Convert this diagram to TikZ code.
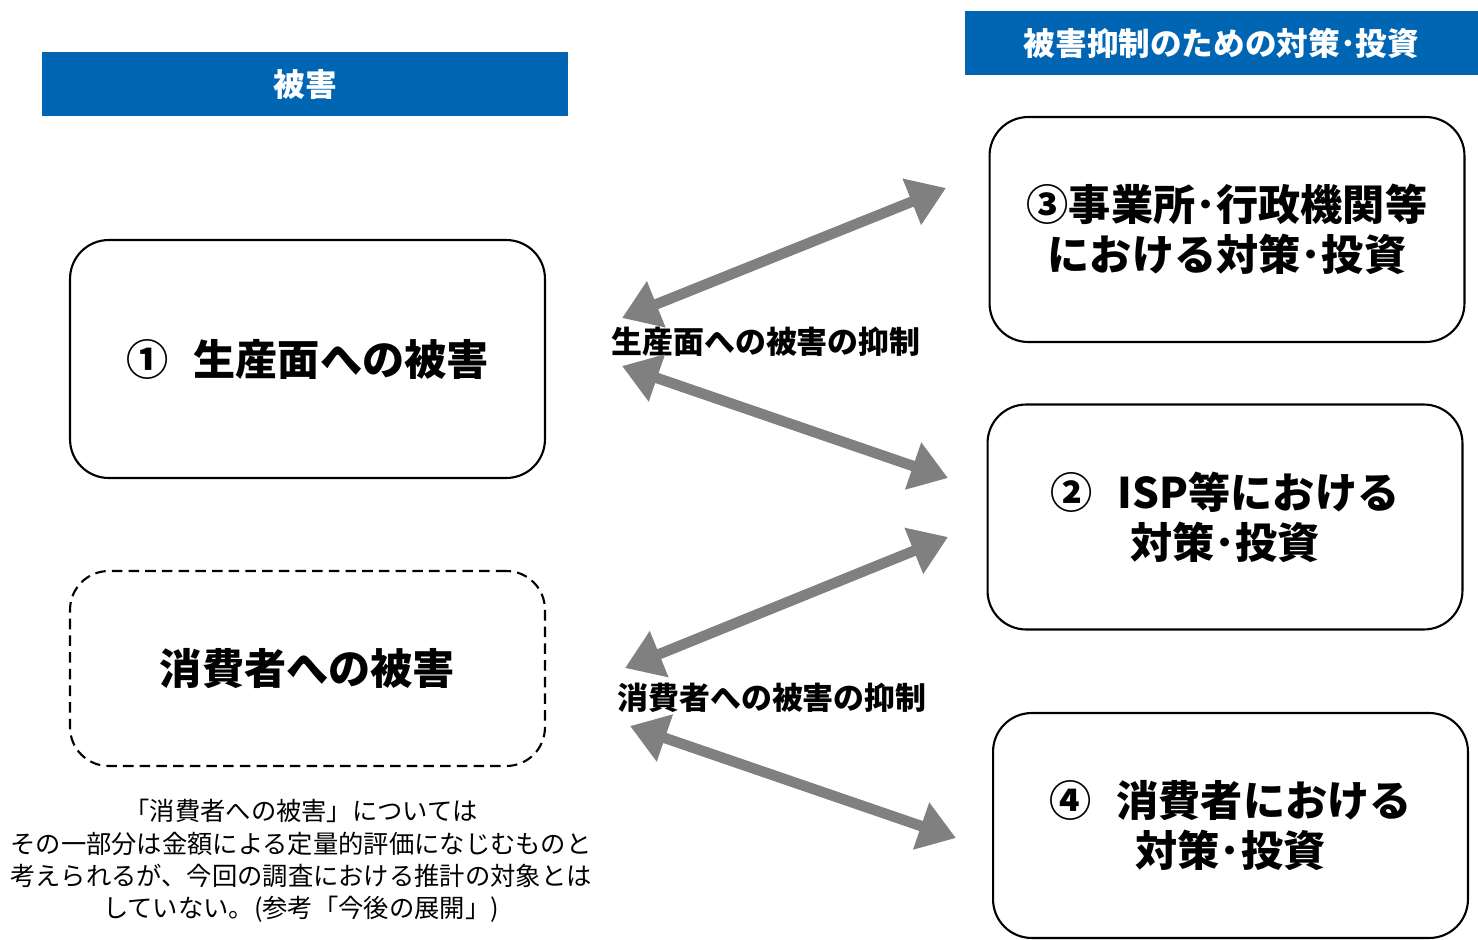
\documentclass[tikz,border=0pt]{standalone}
\usepackage{fontspec}
\setmainfont{Noto Sans CJK JP}
\usetikzlibrary{arrows.meta, positioning}
\definecolor{HeaderBlue}{HTML}{0066B3}
\definecolor{ArrowGray}{HTML}{808080}

\tikzset{
  header/.style={fill=HeaderBlue, text=white, inner sep=0pt, minimum height=1.28cm,
    font=\bfseries\fontsize{18}{21}\selectfont},
  damagebox/.style={draw, line width=1.2pt, rounded corners=22pt, minimum width=9.5cm,
    align=center, font=\bfseries\fontsize{24}{28.5}\selectfont},
  measurebox/.style={damagebox, minimum height=4.5cm},
  curbtext/.style={font=\bfseries\fontsize{17.6}{20}\selectfont},
  biarrow/.style={ArrowGray, line width=6pt, {Triangle[length=21pt,width=27pt]}-{Triangle[length=21pt,width=27pt]}}
}

\begin{document}
\begin{tikzpicture}[x=0.02cm, y=-0.02cm]
  \useasboundingbox (0,0) rectangle (1478,940);

  % headers
  \node[header, minimum width=10.52cm] (hdrDamage) at (305,84) {被害};
  \node[header, minimum width=10.26cm] (hdrMeasure) at (1221.5,43) {被害抑制のための対策･投資};

  % damage side
  \node[damagebox, minimum height=4.76cm] (boxProd) at (307.5,359) {①\hspace{0.6em}生産面への被害};
  \node[damagebox, dash pattern=on 6pt off 3.5pt, minimum height=3.9cm] (boxCons) at (307.5,668.5) {消費者への被害};
  \node[align=center, font=\fontsize{14.4}{18.4}\selectfont] (note) at (301,861)
    {「消費者への被害」については\\その一部分は金額による定量的評価になじむものと\\考えられるが、今回の調査における推計の対象とは\\していない。(参考「今後の展開」)};

  % measures side
  \node[measurebox] (boxOffice) at (1227,229.5) {③事業所･行政機関等\\における対策･投資};
  \node[measurebox] (boxISP) at (1225,517) {②\hspace{0.6em}ISP等における\\対策･投資};
  \node[measurebox] (boxUser) at (1230.5,825.5) {④\hspace{0.6em}消費者における\\対策･投資};

  % arrows
  \node[curbtext] (curbProd) at (766,342) {生産面への被害の抑制};
  \node[curbtext] (curbCons) at (772,698) {消費者への被害の抑制};
  \coordinate (pA) at (622,318);
  \coordinate (pB) at (946,188);
  \coordinate (pC) at (622,366);
  \coordinate (pD) at (948,478);
  \coordinate (pE) at (625,668);
  \coordinate (pF) at (948,537);
  \coordinate (pG) at (630,726);
  \coordinate (pH) at (956,838);
  \draw[biarrow] (pA) -- (pB);
  \draw[biarrow] (pC) -- (pD);
  \draw[biarrow] (pE) -- (pF);
  \draw[biarrow] (pG) -- (pH);
\end{tikzpicture}
\end{document}
